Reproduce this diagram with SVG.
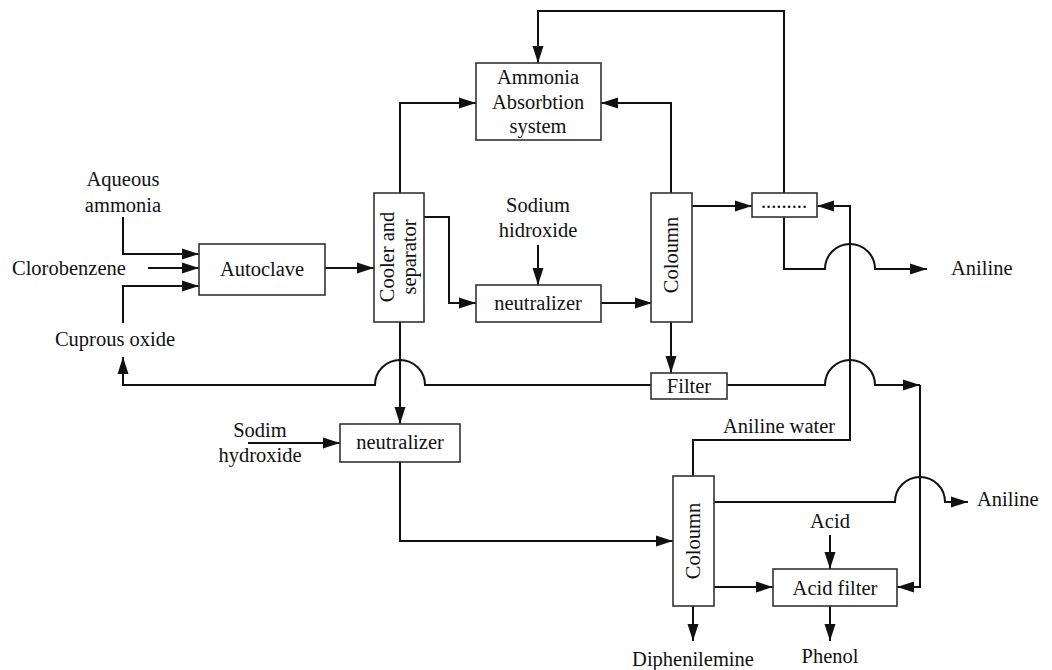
<svg xmlns="http://www.w3.org/2000/svg" width="1052" height="670" viewBox="0 0 1052 670">
<style>
text{font-family:"Liberation Serif","Times New Roman",serif;font-size:20.5px;fill:#111;}
.m{text-anchor:middle;}
.box{fill:#fff;stroke:#333;stroke-width:1.6;}
.ln{fill:none;stroke:#111;stroke-width:2;}
.ar{marker-end:url(#ah);}
</style>
<defs>
<marker id="ah" markerUnits="userSpaceOnUse" markerWidth="18" markerHeight="12" refX="17" refY="6" orient="auto">
<path d="M0,0.5 L17,6 L0,11.5 z" fill="#111"/>
</marker>
</defs>
<rect width="1052" height="670" fill="#fff"/>
<g id="connectors">
<path class="ln ar" d="M123,217 V254 H199"/>
<path class="ln ar" d="M148,268 H199"/>
<path class="ln ar" d="M123,323 V286 H199"/>
<path class="ln ar" d="M325,268 H374"/>
<path class="ln ar" d="M400,193 V103 H476"/>
<path class="ln ar" d="M671,193 V103 H601"/>
<path class="ln ar" d="M784,193 V11 H538 V63"/>
<path class="ln ar" d="M424,217 H449 V303 H476"/>
<path class="ln ar" d="M538,245 V285"/>
<path class="ln ar" d="M601,303 H652"/>
<path class="ln ar" d="M692,206 H752"/>
<path class="ln ar" d="M784,217 V269 H825 A25,25 0 0 1 875,269 H927"/>
<path class="ln ar" d="M693,476 V440 H850 V206 H817"/>
<path class="ln ar" d="M671,322 V373"/>
<path class="ln ar" d="M651,385 H425 A25,25 0 0 0 375,385 H123 V357"/>
<path class="ln ar" d="M727,385 H825 A25,25 0 0 1 875,385 H920"/>
<path class="ln ar" d="M920,385 V587 H897"/>
<path class="ln ar" d="M400,322 V424"/>
<path class="ln ar" d="M248,443 H340"/>
<path class="ln ar" d="M400,462 V541 H673"/>
<path class="ln ar" d="M714,502 H895 A25,25 0 0 1 945,502 H968"/>
<path class="ln ar" d="M830,535 V569"/>
<path class="ln ar" d="M714,587 H773"/>
<path class="ln ar" d="M693,606 V641"/>
<path class="ln ar" d="M830,606 V641"/>
</g>
<g id="labels">
<text class="m" x="123" y="186">Aqueous</text>
<text class="m" x="123" y="212">ammonia</text>
<text x="12" y="275">Clorobenzene</text>
<text class="m" x="115" y="346">Cuprous oxide</text>
<text class="m" x="538" y="212">Sodium</text>
<text class="m" x="538" y="237">hidroxide</text>
<text x="951" y="275">Aniline</text>
<text class="m" x="260" y="437">Sodim</text>
<text class="m" x="260" y="462">hydroxide</text>
<text x="723" y="433">Aniline water</text>
<text x="977" y="506">Aniline</text>
<text class="m" x="830" y="528">Acid</text>
<text class="m" x="693" y="666">Diphenilemine</text>
<text class="m" x="830" y="663">Phenol</text>
</g>
<g id="autoclave">
<rect class="box" x="199" y="244" width="126" height="51"/>
<text class="m" x="262" y="276">Autoclave</text>
</g>
<g id="cooler">
<rect class="box" x="374" y="193" width="50" height="129"/>
<text class="m" transform="translate(394,257) rotate(-90)">Cooler and</text>
<text class="m" transform="translate(416,257) rotate(-90)">separator</text>
</g>
<g id="absorption">
<rect class="box" x="476" y="63" width="125" height="77"/>
<text class="m" x="538" y="84">Ammonia</text>
<text class="m" x="538" y="109">Absorbtion</text>
<text class="m" x="538" y="133">system</text>
</g>
<g id="neutralizer1">
<rect class="box" x="476" y="285" width="125" height="37"/>
<text class="m" x="538" y="310">neutralizer</text>
</g>
<g id="column1">
<rect class="box" x="651" y="193" width="41" height="129"/>
<text class="m" transform="translate(678,255) rotate(-90)">Coloumn</text>
</g>
<g id="separator-box">
<rect class="box" x="752" y="193" width="65" height="24"/>
<text class="m" x="784" y="208">.........</text>
</g>
<g id="filter">
<rect class="box" x="651" y="373" width="76" height="26"/>
<text class="m" x="689" y="393">Filter</text>
</g>
<g id="neutralizer2">
<rect class="box" x="340" y="424" width="120" height="38"/>
<text class="m" x="400" y="449">neutralizer</text>
</g>
<g id="column2">
<rect class="box" x="673" y="476" width="41" height="130"/>
<text class="m" transform="translate(700,541) rotate(-90)">Coloumn</text>
</g>
<g id="acidfilter">
<rect class="box" x="773" y="569" width="124" height="37"/>
<text class="m" x="835" y="595">Acid filter</text>
</g>
</svg>
